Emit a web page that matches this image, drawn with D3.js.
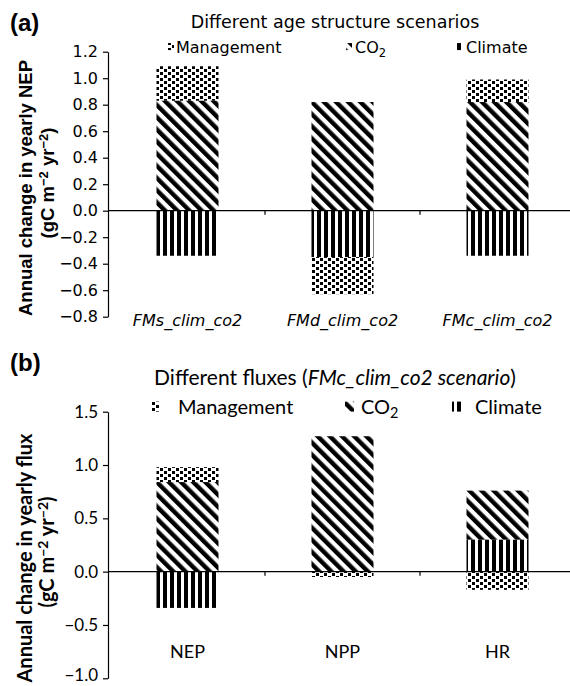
<!DOCTYPE html>
<html><head><meta charset="utf-8">
<script src="https://cdn.jsdelivr.net/npm/d3@7"></script>
<style>body{margin:0;background:#fff}</style>
</head><body>
<svg id="chart" width="570" height="686" xmlns="http://www.w3.org/2000/svg"></svg>
<script>
// ---------- data ----------
const componentKeys = ["Climate", "CO2", "Management"];

const scenariosA = ["FMs_clim_co2", "FMd_clim_co2", "FMc_clim_co2"];
const climateA = [-0.34, -0.35, -0.34];
const co2A = [0.83, 0.82, 0.82];
const managementA = [0.26, -0.28, 0.17];
const ticksA = [-0.8, -0.6, -0.4, -0.2, 0.0, 0.2, 0.4, 0.6, 0.8, 1.0, 1.2];

const fluxesB = ["NEP", "NPP", "HR"];
const climateB = [-0.34, 0.0, 0.30];
const co2B = [0.84, 1.27, 0.46];
const managementB = [0.14, -0.05, -0.17];
const ticksB = [-1.0, -0.5, 0.0, 0.5, 1.0, 1.5];

// ---------- setup ----------
const svg = d3.select("#chart");
const defs = svg.append("defs");

// Management: staggered small squares
const pm = defs.append("pattern").attr("id", "pMgmt").attr("patternUnits", "userSpaceOnUse")
  .attr("width", 8).attr("height", 6);
[[0,0],[4,3]].forEach(([x,y]) => pm.append("rect").attr("x", x).attr("y", y).attr("width", 3).attr("height", 3).attr("fill", "#000"));
// CO2: "\" diagonal stripes
const pc = defs.append("pattern").attr("id", "pCO2").attr("patternUnits", "userSpaceOnUse")
  .attr("width", 8.6).attr("height", 8.6).attr("patternTransform", "rotate(-45)");
pc.append("rect").attr("x", 0).attr("y", 0).attr("width", 4.4).attr("height", 8.6).attr("fill", "#000");
// Climate: vertical stripes
const pcl = defs.append("pattern").attr("id", "pClim").attr("patternUnits", "userSpaceOnUse")
  .attr("width", 7).attr("height", 10);
pcl.append("rect").attr("x", 2).attr("y", 0).attr("width", 4).attr("height", 10).attr("fill", "#000");

const fills = { Climate: "url(#pClim)", CO2: "url(#pCO2)", Management: "url(#pMgmt)" };

const FA = "'DejaVu Sans', Verdana, sans-serif";
const FB = "Lato, 'Open Sans', sans-serif";
const FT = "'Liberation Sans', Arial, sans-serif";

function drawPanel(opt) {
  const rows = opt.cats.map((c, i) => ({ cat: c, Climate: opt.climate[i], CO2: opt.co2[i], Management: opt.mgmt[i] }));
  const series = d3.stack().keys(componentKeys).offset(d3.stackOffsetDiverging)(rows);
  const x = d3.scaleBand().domain(opt.cats).range([110, 575]).paddingInner(0.6).paddingOuter(0.3);
  const y = d3.scaleLinear().domain([opt.ticks[0], opt.ticks[opt.ticks.length - 1]]).range(opt.yRange);

  const g = svg.append("g");
  series.forEach(s => {
    g.append("g").selectAll("rect").data(s).join("rect")
      .attr("x", d => x(d.data.cat))
      .attr("width", x.bandwidth())
      .attr("y", d => y(Math.max(d[0], d[1])))
      .attr("height", d => Math.abs(y(d[0]) - y(d[1])))
      .attr("fill", fills[s.key]);
  });
  const ax = g.append("g").attr("transform", "translate(108,0)")
    .call(d3.axisLeft(y).tickValues(opt.ticks).tickSize(5).tickSizeOuter(0).tickPadding(5).tickFormat(d3.format(".1f")));
  ax.selectAll("path,line").attr("stroke", "#000").attr("stroke-width", 1.2);
  ax.selectAll("text").attr("font-family", opt.font).attr("font-size", opt.tickSize).attr("fill", "#000");
  // keep the lowest tick label inside the picture
  ax.selectAll(".tick").filter(d => d === opt.ticks[0]).select("text").attr("dy", opt.lowDy);
  g.append("line").attr("x1", 108).attr("x2", 570).attr("y1", y(0)).attr("y2", y(0))
    .attr("stroke", "#000").attr("stroke-width", 1.2);
  g.append("g").selectAll("line").data(opt.cats.slice(0, -1)).join("line")
    .attr("x1", d => x(d) + x.bandwidth() + (x.step() - x.bandwidth()) / 2)
    .attr("x2", d => x(d) + x.bandwidth() + (x.step() - x.bandwidth()) / 2)
    .attr("y1", y(0)).attr("y2", y(0) + 4).attr("stroke", "#000").attr("stroke-width", 1.2);
  g.append("g").selectAll("text").data(opt.cats).join("text")
    .attr("x", d => x(d) + x.bandwidth() / 2).attr("y", opt.labelY)
    .attr("text-anchor", "middle").attr("font-family", opt.font).attr("font-size", opt.labelSize)
    .attr("font-style", opt.labelItalic ? "italic" : "normal").text(d => d);
}

drawPanel({ cats: scenariosA, climate: climateA, co2: co2A, mgmt: managementA, ticks: ticksA,
  yRange: [316.7, 51.7], font: FA, tickSize: 16, labelY: 326, labelSize: 16, labelItalic: true, lowDy: "0.32em" });
drawPanel({ cats: fluxesB, climate: climateB, co2: co2B, mgmt: managementB, ticks: ticksB,
  yRange: [678.3, 411.7], font: FB, tickSize: 17, labelY: 658, labelSize: 18, labelItalic: false, lowDy: "0.12em" });

// ---------- panel labels & titles ----------
svg.append("text").attr("x", 10).attr("y", 31).attr("font-family", FT).attr("font-weight", "bold").attr("font-size", 24).text("(a)");
svg.append("text").attr("x", 10).attr("y", 371).attr("font-family", FT).attr("font-weight", "bold").attr("font-size", 24).text("(b)");

svg.append("text").attr("x", 335).attr("y", 28).attr("text-anchor", "middle").attr("font-family", FA).attr("font-size", 17.5)
  .text("Different age structure scenarios");
const tb = svg.append("text").attr("x", 335).attr("y", 385).attr("text-anchor", "middle").attr("font-family", FB).attr("font-size", 21);
tb.append("tspan").text("Different fluxes (");
tb.append("tspan").attr("font-style", "italic").text("FMc_clim_co2 scenario");
tb.append("tspan").text(")");

// ---------- y titles ----------
function yTitle(x1, c1, x2, c2, line1, font, size) {
  svg.append("text").attr("transform", `translate(${x1},${c1}) rotate(-90)`).attr("text-anchor", "middle")
    .attr("font-family", font).attr("font-weight", "bold").attr("font-size", size).text(line1);
  const t = svg.append("text").attr("transform", `translate(${x2},${c2}) rotate(-90)`).attr("text-anchor", "middle")
    .attr("font-family", font).attr("font-weight", "bold").attr("font-size", size);
  t.append("tspan").text("(gC m");
  t.append("tspan").attr("dy", -6).attr("font-size", size * 0.7).text("\u22122");
  t.append("tspan").attr("dy", 6).text(" yr");
  t.append("tspan").attr("dy", -6).attr("font-size", size * 0.7).text("\u22122");
  t.append("tspan").attr("dy", 6).text(")");
}
yTitle(32, 188, 54, 183, "Annual change in yearly NEP", FT, 18.5);
yTitle(32, 558, 54, 552, "Annual change in yearly flux", FB, 20);

// ---------- legends ----------
function legend(items, font, size, sw, sh, ty) {
  items.forEach(it => {
    svg.append("rect").attr("x", it.sx).attr("y", ty - size * 0.62).attr("width", sw).attr("height", sh).attr("fill", fills[it.key]);
    const t = svg.append("text").attr("x", it.tx).attr("y", ty).attr("font-family", font).attr("font-size", size);
    if (it.key === "CO2") {
      t.append("tspan").text("CO");
      t.append("tspan").attr("dy", 4).attr("font-size", size * 0.72).text("2");
    } else t.text(it.key);
  });
}
legend([{ key: "Management", sx: 168, tx: 176 }, { key: "CO2", sx: 346, tx: 355 }, { key: "Climate", sx: 456, tx: 466 }],
  FA, 16, 6, 7, 53);
legend([{ key: "Management", sx: 151, tx: 178 }, { key: "CO2", sx: 345, tx: 361 }, { key: "Climate", sx: 452, tx: 475 }],
  FB, 20, 9, 10, 414);
</script>
</body></html>
